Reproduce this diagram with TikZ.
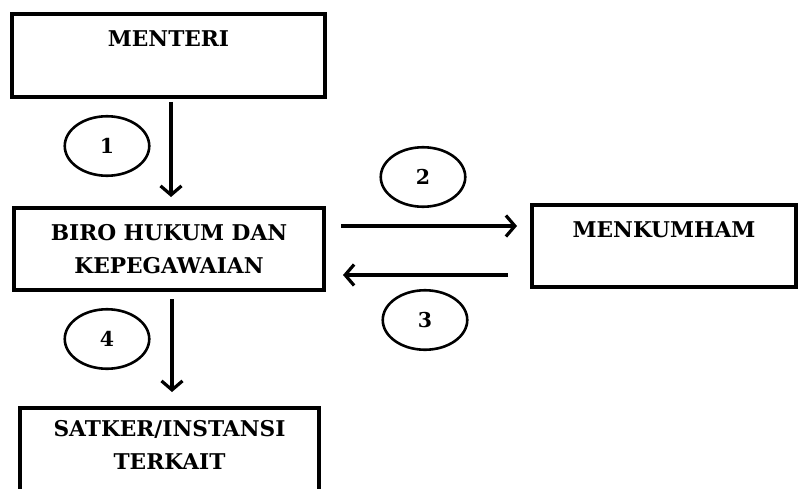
\documentclass[tikz,border=0pt]{standalone}
\usepackage{fontspec}
\setmainfont{DejaVu Serif}
\usepackage{tikz}
\usetikzlibrary{arrows.meta,shapes}
\tikzset{
    office/.style={draw=black, rectangle, line width=4pt, inner sep=0pt, align=center,
        font=\fontsize{21.7}{33}\selectfont\bfseries},
    stepnum/.style={draw=black, ellipse, line width=2.6pt, inner sep=0pt,
        minimum width=84.5pt, minimum height=59.5pt, font=\fontsize{20.5}{26}\selectfont\bfseries},
    flow/.style={draw=black, line width=3.2pt, -{Straight Barb[length=9pt,width=21pt]}},
}
\begin{document}
\begin{tikzpicture}[x=1pt, y=-1pt]
		\useasboundingbox (0,0) rectangle (799,489);
		\node[office, minimum width=313pt, minimum height=83pt] (menteri) at (168.5,55.5) {MENTERI\\\mbox{}};
		\node[office, minimum width=310pt, minimum height=82pt] (biro) at (169,249) {BIRO HUKUM DAN\\KEPEGAWAIAN};
		\node[office, minimum width=264pt, minimum height=82pt] (menkumham) at (664,246) {MENKUMHAM\\\mbox{}};
		\node[office, minimum width=299pt, minimum height=107pt] (satker) at (169.5,461.5) {SATKER/INSTANSI\\TERKAIT\\\mbox{}};
		%
		\node[stepnum] (n1) at (107,146) {1};
		\node[stepnum] (n2) at (423,177) {2};
		\node[stepnum] (n3) at (425,320) {3};
		\node[stepnum] (n4) at (107,339) {4};
		%
		\draw[flow] ([xshift=2.5pt,yshift=-3pt]menteri.south) -- ([xshift=2pt,yshift=9pt]biro.north);
		\draw[flow] ([xshift=15pt,yshift=23pt]biro.east) -- ([xshift=-13pt,yshift=20pt]menkumham.west);
		\draw[flow] ([xshift=-22pt,yshift=-29pt]menkumham.west) -- ([xshift=17pt,yshift=-26pt]biro.east);
		\draw[flow] ([xshift=3pt,yshift=-7pt]biro.south) -- ([xshift=2.5pt,yshift=14pt]satker.north);
	\end{tikzpicture}
\end{document}
